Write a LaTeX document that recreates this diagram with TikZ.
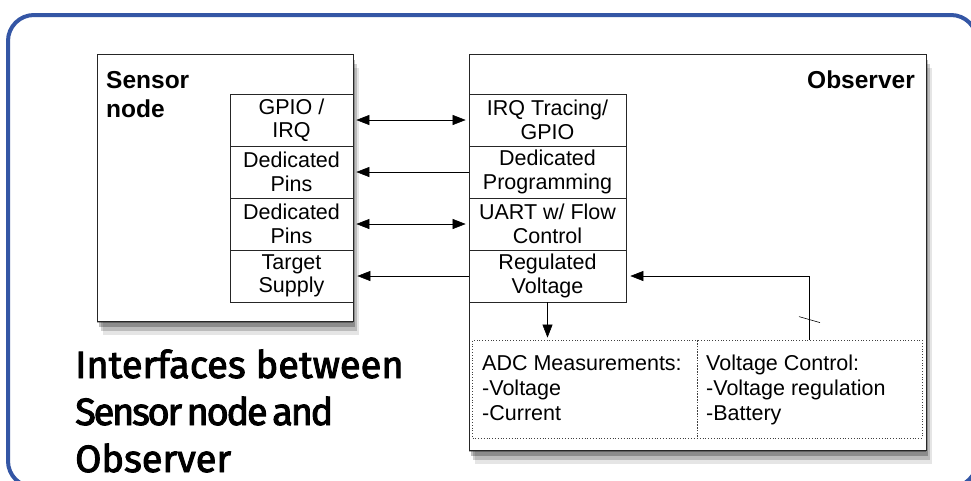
\documentclass[tikz,border=0pt]{standalone}
\usepackage{fontspec}
\setmainfont{Liberation Sans}
\newfontfamily\titlefont[FakeBold=2.5]{Fira Sans}
\usetikzlibrary{arrows.meta,shadows,calc}
\definecolor{frameblue}{RGB}{52,86,165}
\begin{document}
\begin{tikzpicture}
  [x=1pt,y=-1pt,
   unit/.style={draw=black!85,line width=0.8pt,fill=white,inner sep=0pt,
     general shadow={shadow xshift=0pt,shadow yshift=-2pt,fill=black,opacity=0.3},
     general shadow={shadow xshift=2pt,shadow yshift=-6pt,fill=black,opacity=0.25},
     general shadow={shadow xshift=4pt,shadow yshift=-10pt,fill=black,opacity=0.18},
     general shadow={shadow xshift=6pt,shadow yshift=-14pt,fill=black,opacity=0.1}},
   port/.style={draw=black!85,line width=0.7pt,fill=white,inner sep=0pt,minimum height=52pt,
     align=center,font=\fontsize{21.5}{23.5}\selectfont},
   sport/.style={port,minimum width=123pt},
   oport/.style={port,minimum width=157pt},
   infobox/.style={draw=black!75,dotted,line width=0.8pt,minimum width=225pt,minimum height=98pt,inner sep=0pt},
   info/.style={align=left,anchor=base west,inner sep=0pt,font=\fontsize{21.5}{25}\selectfont},
   link/.style={line width=0.6pt,-{Triangle[length=13pt,width=10pt]},shorten >=3pt},
   blink/.style={link,{Triangle[length=13pt,width=10pt]}-{Triangle[length=13pt,width=10pt]},shorten <=3pt},
   biglabel/.style={font=\fontsize{24.5}{29}\selectfont\bfseries,inner sep=0pt}]
  \useasboundingbox (0,0) rectangle (971,480);
  \fill[white] (0,0) rectangle (971,480);
  \begin{scope}
    \clip (0,0) rectangle (971,480);
    \draw[frameblue,line width=4pt,rounded corners=26pt] (8,15) rectangle (977,487);
  \end{scope}

  \node[unit,minimum width=256pt,minimum height=267pt] (sensor) at (225,187.5) {};
  \node[unit,minimum width=457pt,minimum height=396pt] (observer) at (697.5,252) {};
  \node[biglabel,anchor=base west,align=left] (slabel) at (106,117) {Sensor\\node};
  \node[biglabel,anchor=base east] (olabel) at (915,88) {Observer};

  \node[sport] (sg) at (291.5,120) {GPIO /\\IRQ};
  \node[sport] (sd) at (291.5,172) {Dedicated\\Pins};
  \node[sport] (su) at (291.5,224) {Dedicated\\Pins};
  \node[sport] (st) at (291.5,276) {Target\\Supply};

  \node[oport] (og) at (547.5,120) {IRQ Tracing/\\GPIO};
  \node[oport] (od) at (547.5,172) {Dedicated\\Programming};
  \node[oport] (ou) at (547.5,224) {UART w/ Flow\\Control};
  \node[oport] (ov) at (547.5,276) {Regulated\\Voltage};

  \node[infobox] (adc) at (585,389) {};
  \node[infobox] (vc) at (809.5,389) {};
  \node[info] (adctext) at (482,420) {ADC Measurements:\\-Voltage\\-Current};
  \node[info] (vctext) at (706,420) {Voltage Control:\\-Voltage regulation\\-Battery};

  \draw[blink] (sg.east) -- (og.west);
  \draw[link] (od.west) -- (sd.east);
  \draw[blink] (su.east) -- (ou.west);
  \draw[link,shorten >=4pt] (ov.west) -- (st.east);
  \draw[link,shorten >=2pt] (ov.south) -- (ov.south |- adc.north);
  \draw[link,shorten >=4pt] (vc.north) |- (ov.east);
  \draw[line width=0.6pt] ($(vc.north)+(-10.5,-23)$) -- ++(21,6);

  \node[anchor=base west,align=left,inner sep=0pt,
    font=\titlefont\fontsize{38}{47}\selectfont] (title) at (75,472)
    {Interfaces between\\{\addfontfeature{LetterSpace=-6}\spaceskip=0.12em Sensor node and}\\Observer};
\end{tikzpicture}
\end{document}
